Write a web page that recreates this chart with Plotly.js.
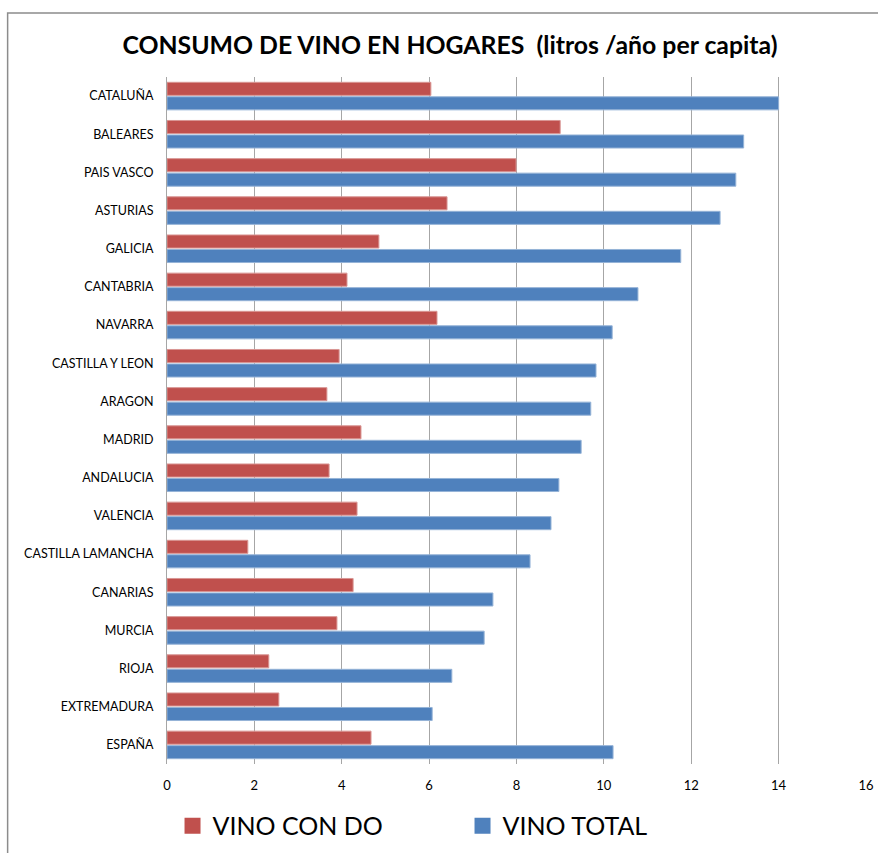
<!DOCTYPE html>
<html>
<head>
<meta charset="utf-8">
<script src="https://cdn.plot.ly/plotly-3.0.1.min.js"></script>
<style>html,body{margin:0;padding:0;background:#fff;}</style>
</head>
<body>
<div id="chart" style="width:878px;height:853px;"></div>
<script>
const regions = ["CATALUÑA","BALEARES","PAIS VASCO","ASTURIAS","GALICIA","CANTABRIA","NAVARRA","CASTILLA Y LEON","ARAGON","MADRID","ANDALUCIA","VALENCIA","CASTILLA LAMANCHA","CANARIAS","MURCIA","RIOJA","EXTREMADURA","ESPAÑA"];
const vinoConDO = [6.04, 9.0, 7.99, 6.41, 4.85, 4.12, 6.18, 3.94, 3.66, 4.44, 3.71, 4.35, 1.85, 4.26, 3.89, 2.33, 2.56, 4.67];
const vinoTotal = [14.0, 13.2, 13.02, 12.66, 11.76, 10.78, 10.19, 9.82, 9.70, 9.48, 8.97, 8.79, 8.31, 7.46, 7.26, 6.52, 6.07, 10.21];
const seriesNames = ["VINO CON DO", "VINO TOTAL"];
const seriesColors = ["#C0504D", "#4F81BD"];
const xTicks = [0, 2, 4, 6, 8, 10, 12, 14, 16];

const traces = [
  {type:'bar', orientation:'h', name:seriesNames[0], y:regions, x:vinoConDO, showlegend:false,
   marker:{color:seriesColors[0], line:{color:'#D99694', width:1}}},
  {type:'bar', orientation:'h', name:seriesNames[1], y:regions, x:vinoTotal, showlegend:false,
   marker:{color:seriesColors[1], line:{color:'#95B3D7', width:1}}},
  // legend-only entries (no data points) to get larger square legend keys
  {type:'scatter', mode:'markers', name:seriesNames[0], x:[null], y:[null], showlegend:true,
   marker:{symbol:'square', size:16, color:seriesColors[0], line:{width:0}}},
  {type:'scatter', mode:'markers', name:seriesNames[1], x:[null], y:[null], showlegend:true,
   marker:{symbol:'square', size:16, color:seriesColors[1], line:{width:0}}}
];

const layout = {
  width:878, height:853,
  margin:{l:167, r:12, t:77, b:89, autoexpand:false},
  paper_bgcolor:'#fff', plot_bgcolor:'#fff',
  font:{family:'Lato, Liberation Sans, sans-serif', color:'#000'},
  title:{text:'<b>CONSUMO DE VINO EN HOGARES  (litros /año per capita)</b>',
         font:{family:'Lato, Liberation Sans, sans-serif', size:24.8, color:'#000'},
         x:0.5125, xanchor:'center', xref:'container', y:0.947, yanchor:'middle'},
  barmode:'group', bargap:0.24, bargroupgap:0.1,
  xaxis:{range:[0,16], tickvals:xTicks, ticktext:xTicks.map(String),
         showgrid:true, gridcolor:'#A6A6A6', gridwidth:1, zeroline:false,
         showline:false, ticks:'', tickfont:{size:13, color:'#000'}, ticklabelstandoff:12, fixedrange:true},
  yaxis:{autorange:'reversed', type:'category', categoryarray:regions, showgrid:false, zeroline:false,
         showline:true, linecolor:'#A6A6A6', linewidth:1, ticks:'',
         tickfont:{size:12.5, color:'#000'}, ticklabelstandoff:10, fixedrange:true},
  legend:{orientation:'h', xref:'container', yref:'container', x:0.1965, xanchor:'left', y:0.0317, yanchor:'middle',
          font:{size:25, color:'#000'}, traceorder:'normal', entrywidth:245, itemsizing:'trace'},
  shapes:[{type:'rect', xref:'paper', yref:'paper', x0:-0.228, x1:1.05, y0:-0.2, y1:1.0932,
           line:{color:'#8C8C8C', width:1.5}, fillcolor:'rgba(0,0,0,0)', layer:'below'}],
  showlegend:true
};

Plotly.newPlot('chart', traces, layout, {displayModeBar:false, staticPlot:true});
</script>
</body>
</html>
